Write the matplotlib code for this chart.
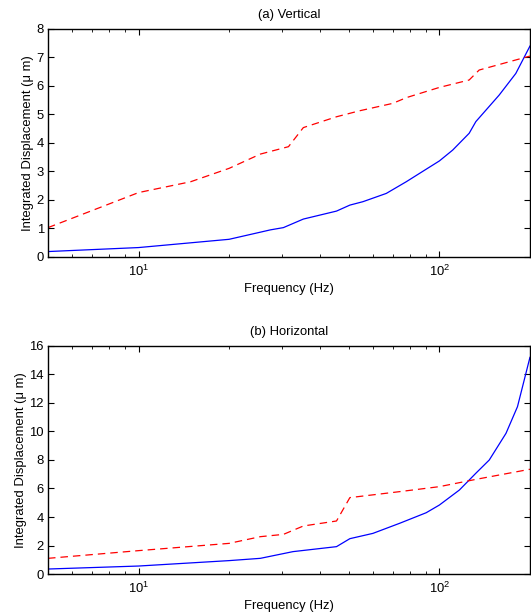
import matplotlib
matplotlib.use("Agg")
import matplotlib.pyplot as plt
from matplotlib.ticker import LogLocator, NullFormatter

plt.rcParams['font.family'] = ['Liberation Sans', 'DejaVu Sans']

# (a) Vertical
vert_blue_f = [5, 10, 20, 25.4, 27.4, 30.3, 35.3, 45.5, 50.4, 55.7, 66.6, 77.6, 90.4,
               100, 110.7, 125.6, 132.2, 158, 179.5, 200]
vert_blue_y = [0.19, 0.33, 0.62, 0.87, 0.95, 1.03, 1.33, 1.61, 1.82, 1.94, 2.23, 2.64, 3.08,
               3.37, 3.75, 4.34, 4.75, 5.68, 6.44, 7.40]
vert_red_f = [5, 10, 14.9, 20, 25.4, 31.5, 35.3, 45.5, 54.3, 70, 77.6, 100, 125.6, 135.6, 200]
vert_red_y = [1.03, 2.26, 2.64, 3.11, 3.61, 3.87, 4.54, 4.92, 5.13, 5.39, 5.59, 5.95, 6.21,
              6.56, 7.05]

# (b) Horizontal
hor_blue_f = [5, 10, 20, 25.4, 32.6, 45.5, 50.4, 60.1, 73.8, 90.4, 100, 116.5, 132.2,
              146.5, 166.5, 181.8, 200]
hor_blue_y = [0.35, 0.56, 0.94, 1.10, 1.57, 1.92, 2.48, 2.85, 3.56, 4.30, 4.84, 5.89, 7.07,
              8.0, 9.87, 11.74, 15.2]
hor_red_f = [5, 10, 20, 25.4, 30.3, 35.3, 45.5, 50.4, 73.8, 100, 132.2, 200]
hor_red_y = [1.10, 1.64, 2.15, 2.62, 2.78, 3.37, 3.72, 5.36, 5.78, 6.13, 6.64, 7.35]

fig = plt.figure(figsize=(5.31, 6.13), dpi=100)
ax1 = fig.add_axes([0.0904, 0.5808, 0.9076, 0.3719])
ax2 = fig.add_axes([0.0904, 0.0636, 0.9076, 0.3720])

panels = [
    (ax1, vert_blue_f, vert_blue_y, vert_red_f, vert_red_y, "(a) Vertical", 8, range(0, 9)),
    (ax2, hor_blue_f, hor_blue_y, hor_red_f, hor_red_y, "(b) Horizontal", 16, range(0, 17, 2)),
]

fs = 9.4
for ax, bf, by, rf, ry, title, ymax, yt in panels:
    ax.plot(bf, by, color="#0000ff", lw=0.9)
    ax.plot(rf, ry, color="#ff0000", lw=0.9, dashes=(6, 4))
    ax.set_xscale("log")
    ax.set_xlim(5, 200)
    ax.set_ylim(0, ymax)
    ax.set_yticks(list(yt))
    ax.xaxis.set_major_locator(LogLocator(base=10, numticks=10))
    ax.xaxis.set_minor_locator(LogLocator(base=10, subs=range(2, 10), numticks=10))
    ax.xaxis.set_minor_formatter(NullFormatter())
    ax.tick_params(which="both", direction="in", top=True, right=True, labelsize=fs)
    ax.tick_params(axis="y", pad=3)
    ax.tick_params(axis="x", pad=5)
    ax.tick_params(which="major", length=4)
    ax.tick_params(which="minor", length=2.5)
    for s in ax.spines.values():
        s.set_linewidth(1.0)
    ax.set_title(title, fontsize=fs, pad=8)
    ax.set_xlabel("Frequency (Hz)", fontsize=fs, labelpad=3)
    ax.set_ylabel("Integrated Displacement (\u03bc m)", fontsize=fs, labelpad=2)

fig.savefig("out.png", dpi=100)
